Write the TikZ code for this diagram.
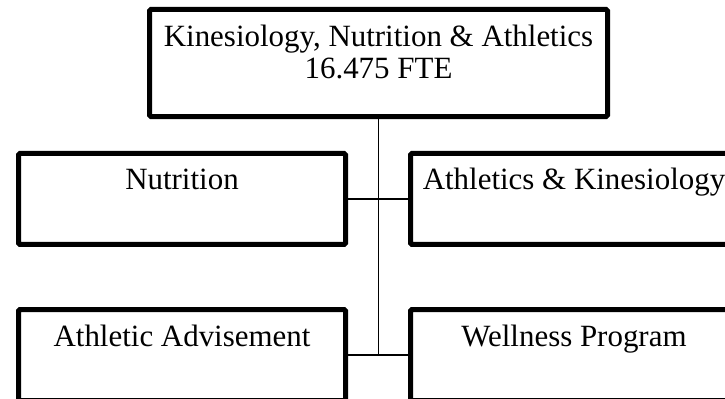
\documentclass[tikz,border=0pt]{standalone}
\usepackage{fontspec}
\setmainfont{Liberation Serif}
\usetikzlibrary{positioning}

\begin{document}
\begin{tikzpicture}[
    x=0.75pt, y=-0.75pt,
    unit/.style={rectangle, draw, line width=3.75pt, rounded corners=1pt, align=center, fill=white,
        font=\fontsize{23.2}{24}\selectfont, inner xsep=0pt, inner ysep=3.75pt},
    head/.style={unit, minimum width=343.5pt, minimum height=80.25pt, text height=48.4pt, text depth=24.4pt},
    sub/.style={unit, minimum width=245.25pt, minimum height=68.25pt, text height=23.6pt, text depth=37.1pt},
    link/.style={line width=1.1pt}
]
    \useasboundingbox (0,0) rectangle (725,399);
    \clip (0,0) rectangle (725,399);

    % Head of the unit
    \node[head] (kna) at (378.5,63) {Kinesiology, Nutrition \& Athletics\\16.475 FTE};

    % Sub units
    \node[sub] (nutr) at (182,199) {Nutrition};
    \node[sub] (athkin) at (574,199) {Athletics \& Kinesiology};
    \node[sub] (advise) at (182,355) {Athletic Advisement};
    \node[sub] (wellness) at (574,355) {Wellness Program};

    % Connectors
    \draw[link] (kna.south) -- (kna.south |- advise.east);
    \draw[link] (nutr.east) -- (athkin.west);
    \draw[link] (advise.east) -- (wellness.west);

\end{tikzpicture}
\end{document}
